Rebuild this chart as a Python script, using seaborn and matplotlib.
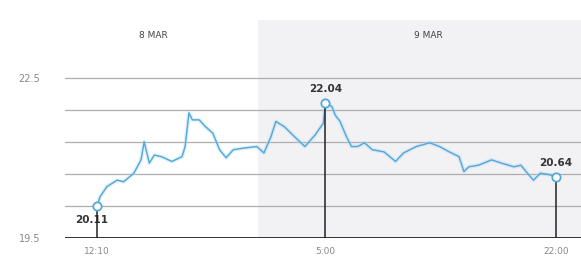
import matplotlib
matplotlib.use("Agg")
import matplotlib.pyplot as plt
import seaborn as sns
import pandas as pd

# hours since 8 MAR 00:00
hours = [12.167, 12.39, 12.90, 13.65, 14.13, 14.88, 15.41, 15.64, 16.02, 16.39,
         16.92, 17.68, 18.43, 18.66, 18.94, 19.19, 19.69, 20.17, 20.70, 21.20,
         21.68, 22.21, 22.96, 23.94, 24.47, 24.98, 25.35, 25.98, 26.74, 27.49,
         28.25, 28.85, 29.00, 29.48, 29.72, 30.08, 30.56, 30.92, 31.38, 31.88,
         32.46, 33.32, 34.17, 34.76, 35.70, 36.69, 37.41, 38.13, 38.85, 39.21,
         39.57, 40.29, 41.25, 41.97, 42.90, 43.41, 43.89, 44.34, 44.85, 45.57,
         46.00]
values = [20.11, 20.28, 20.47, 20.59, 20.56, 20.72, 20.97, 21.31, 20.91, 21.06,
          21.03, 20.94, 21.03, 21.22, 21.85, 21.72, 21.72, 21.59, 21.47, 21.16,
          21.01, 21.16, 21.19, 21.22, 21.10, 21.40, 21.69, 21.59, 21.40, 21.22,
          21.44, 21.66, 22.04, 21.97, 21.81, 21.69, 21.40, 21.22, 21.22, 21.29,
          21.16, 21.12, 20.94, 21.10, 21.22, 21.29, 21.22, 21.12, 21.03, 20.75,
          20.84, 20.87, 20.97, 20.91, 20.84, 20.87, 20.72, 20.59, 20.72, 20.69,
          20.64]

highlight_hours = [12.167, 29.0, 46.0]
highlight_values = [20.11, 22.04, 20.64]
highlight_labels = ["20.11", "22.04", "20.64"]

xtick_pos = [12.167, 29.0, 46.0]
xtick_labels = ["12:10", "5:00", "22:00"]
ytick_pos = [19.5, 22.5]
ytick_labels = ["19.5", "22.5"]
grid_levels = [20.1, 20.7, 21.3, 21.9, 22.5]

day_labels = ["8 MAR", "9 MAR"]
day_label_pos = [16.3, 36.6]
day_break = 24.0

df = pd.DataFrame({"hour": hours, "value": values})

sns.set_theme(style="white")
fig = plt.figure(figsize=(5.81, 2.61), dpi=100)
ax = fig.add_axes([0.112, 0.087, 0.888, 0.836])

xmin, xmax = 9.81, 47.84
ymin, ymax = 19.5, 23.59
ax.set_xlim(xmin, xmax)
ax.set_ylim(ymin, ymax)

ax.axvspan(day_break, xmax, color="#f2f1f4", zorder=0, lw=0)
for g in grid_levels:
    ax.axhline(g, color="#adadb0", lw=0.9, zorder=1)

# glow + line
ax.plot(hours, values, color="#b5def5", lw=3.0, alpha=0.4, zorder=2, solid_capstyle="round")
sns.lineplot(data=df, x="hour", y="value", ax=ax, color="#55a8d8", lw=1.05, zorder=3)

for h, v, lab in zip(highlight_hours, highlight_values, highlight_labels):
    ax.vlines(h, ymin, v, color="#222222", lw=1.1, zorder=4)
    ax.scatter([h], [v], s=36, facecolor="white", edgecolor="#55a8d8", lw=1.3, zorder=5)

ax.text(highlight_hours[0] - 0.4, highlight_values[0] - 0.17, highlight_labels[0],
        ha="center", va="top", fontsize=7.5, fontweight="bold", color="#333333")
ax.text(highlight_hours[1], highlight_values[1] + 0.17, highlight_labels[1],
        ha="center", va="bottom", fontsize=7.5, fontweight="bold", color="#333333")
ax.text(highlight_hours[2], highlight_values[2] + 0.17, highlight_labels[2],
        ha="center", va="bottom", fontsize=7.5, fontweight="bold", color="#333333")

for lab, pos in zip(day_labels, day_label_pos):
    ax.text(pos, 23.31, lab, ha="center", va="center", fontsize=6.5, color="#444444")

ax.axhline(ymin, color="#222222", lw=1.3, zorder=4)

ax.set_xticks(xtick_pos)
ax.set_xticklabels(xtick_labels, fontsize=6.5, color="#888888")
ax.set_yticks(ytick_pos)
ax.set_yticklabels(ytick_labels, fontsize=7, color="#888888")
ax.tick_params(axis="both", length=0, pad=6)
ax.tick_params(axis="y", pad=18)
ax.set_xlabel("")
ax.set_ylabel("")
for s in ax.spines.values():
    s.set_visible(False)

fig.savefig("out.png", dpi=100, facecolor="white")
